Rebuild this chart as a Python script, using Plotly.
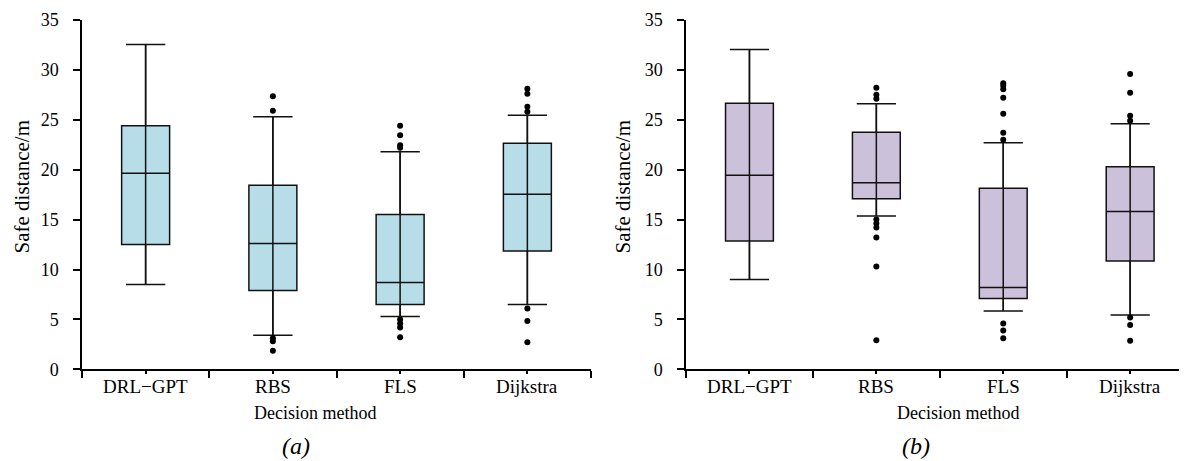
import plotly.graph_objects as go

# ---------------- data ----------------
categories = ["DRL\u2212GPT", "RBS", "FLS", "Dijkstra"]

# panel (a)
a_lower = [8.5, 3.4, 5.3, 6.5]
a_q1 = [12.5, 7.9, 6.5, 11.85]
a_median = [19.65, 12.6, 8.7, 17.55]
a_q3 = [24.4, 18.45, 15.5, 22.65]
a_upper = [32.55, 25.3, 21.8, 25.45]
a_outliers = [
    [],
    [27.35, 25.9, 3.1, 2.8, 1.85],
    [24.4, 23.45, 22.45, 22.2, 5.0, 4.6, 4.2, 3.2],
    [28.1, 27.6, 26.3, 25.8, 6.1, 4.85, 2.7],
]

# panel (b)
b_lower = [9.0, 15.35, 5.85, 5.45]
b_q1 = [12.85, 17.1, 7.1, 10.85]
b_median = [19.45, 18.7, 8.2, 15.8]
b_q3 = [26.65, 23.75, 18.15, 20.3]
b_upper = [32.05, 26.6, 22.7, 24.6]
b_outliers = [
    [],
    [28.2, 27.5, 27.1, 15.0, 14.6, 14.2, 13.2, 10.3, 2.9],
    [28.65, 28.4, 28.05, 27.2, 25.6, 23.7, 23.0, 4.6, 3.9, 3.1],
    [29.6, 27.7, 25.4, 24.9, 5.2, 4.45, 2.85],
]

y_ticks = [0, 5, 10, 15, 20, 25, 30, 35]

color_a = "#B7DEE8"
color_b = "#CCC1DA"

FONT = "Times New Roman, Liberation Serif, serif"

# the page body has an 8px margin, so the figure starts 8px in
OFF = 8
W, H = 1187 - OFF, 461 - OFF


def px(xw):
    return (xw - OFF) / W


def py(yw):
    return 1 - (yw - OFF) / H


positions = list(range(len(categories)))
boundaries = [p - 0.5 for p in positions] + [positions[-1] + 0.5]

fig = go.Figure()


def add_panel(xa, ya, lower, q1, med, q3, upper, outliers, fill):
    fig.add_trace(go.Box(
        x=positions, q1=q1, median=med, q3=q3,
        lowerfence=lower, upperfence=upper,
        fillcolor=fill, line=dict(color="#111111", width=1.5),
        width=0.377, whiskerwidth=0.82, boxpoints=False,
        xaxis=xa, yaxis=ya, showlegend=False, hoverinfo="skip",
    ))
    # vertical line through the whole box (from lower to upper whisker)
    lx, ly = [], []
    for p, lo, hi in zip(positions, lower, upper):
        lx += [p, p, None]
        ly += [lo, hi, None]
    fig.add_trace(go.Scatter(
        x=lx, y=ly, mode="lines", line=dict(color="#111111", width=1.5),
        xaxis=xa, yaxis=ya, showlegend=False, hoverinfo="skip",
    ))
    ox, oy = [], []
    for p, vals in zip(positions, outliers):
        ox += [p] * len(vals)
        oy += vals
    fig.add_trace(go.Scatter(
        x=ox, y=oy, mode="markers",
        marker=dict(color="black", size=6),
        xaxis=xa, yaxis=ya, showlegend=False, hoverinfo="skip",
    ))
    # category labels under the axis
    for p, c in zip(positions, categories):
        fig.add_annotation(
            text=c, x=p, xref=xa, y=py(386.5), yref="paper",
            xanchor="center", yanchor="middle", showarrow=False,
            font=dict(family=FONT, size=19, color="black"),
        )


add_panel("x", "y", a_lower, a_q1, a_median, a_q3, a_upper, a_outliers, color_a)
add_panel("x2", "y2", b_lower, b_q1, b_median, b_q3, b_upper, b_outliers, color_b)

ydom = [py(369.3), py(20)]


def xaxis_style(domain, rng, anchor):
    return dict(
        domain=domain, range=rng, anchor=anchor, automargin=False,
        tickmode="array", tickvals=positions, showticklabels=False,
        ticks="outside", ticklen=3, tickwidth=1.5, tickcolor="black",
        showline=True, linecolor="black", linewidth=1.5,
        showgrid=False, zeroline=False,
        minor=dict(tickmode="array", tickvals=boundaries, ticks="outside",
                   ticklen=7, tickwidth=1.5, tickcolor="black", showgrid=False),
    )


def yaxis_style(anchor):
    return dict(
        domain=ydom, range=[0, 35], anchor=anchor, automargin=False,
        tickmode="array", tickvals=y_ticks,
        ticks="outside", ticklen=7, tickwidth=1.5, tickcolor="black",
        showline=True, linecolor="black", linewidth=1.5,
        showgrid=False, zeroline=False,
        tickfont=dict(family=FONT, size=18, color="black"),
        ticklabelstandoff=11,
    )


fig.update_layout(
    width=W, height=H,
    margin=dict(l=0, r=0, t=0, b=0, autoexpand=False),
    paper_bgcolor="white", plot_bgcolor="white",
    xaxis=xaxis_style([px(82), px(591)], [-0.5, 3.5], "y"),
    xaxis2=xaxis_style([px(686), 1.0], [-0.5, 3.448], "y2"),
    yaxis=yaxis_style("x"),
    yaxis2=yaxis_style("x2"),
)

annos = [
    dict(text="Safe distance/m", x=px(21), y=py(186.5), textangle=-90, size=21),
    dict(text="Safe distance/m", x=px(622), y=py(186.5), textangle=-90, size=21),
    dict(text="Decision method", x=px(315), y=py(413), textangle=0, size=18),
    dict(text="Decision method", x=px(958), y=py(413), textangle=0, size=18),
    dict(text="<i>(a)</i>", x=px(296), y=py(446), textangle=0, size=24),
    dict(text="<i>(b)</i>", x=px(916), y=py(446), textangle=0, size=24),
]
for a in annos:
    fig.add_annotation(
        text=a["text"], x=a["x"], y=a["y"], xref="paper", yref="paper",
        xanchor="center", yanchor="middle", showarrow=False,
        textangle=a["textangle"],
        font=dict(family=FONT, size=a["size"], color="black"),
    )

fig.write_html("out.html")
